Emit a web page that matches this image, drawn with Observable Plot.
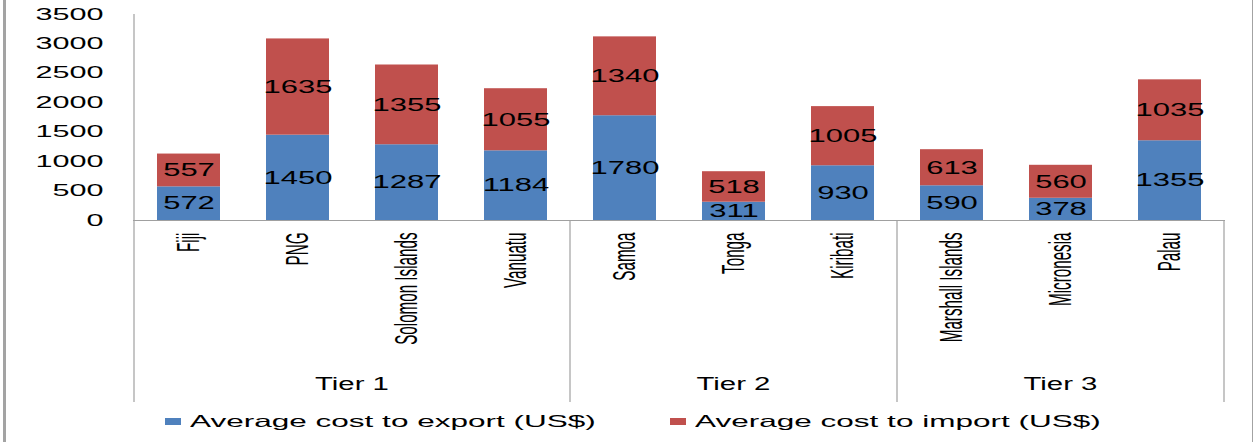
<!DOCTYPE html>
<html>
<head>
<meta charset="utf-8">
<script src="https://cdn.jsdelivr.net/npm/d3@7"></script>
<script src="https://cdn.jsdelivr.net/npm/@observablehq/plot@0.6"></script>
<style>
  body { margin: 0; background: #fff; }
  #wrap { position: relative; width: 1253px; height: 442px; overflow: hidden; font-family: "Liberation Sans", Arial, sans-serif; }
  #border { position: absolute; left: 3px; top: 0; width: 1250px; height: 442px; border-left: 3px solid #a3a3a3; border-right: 1px solid #a3a3a3; box-sizing: border-box; pointer-events: none; }
  .lg { position: absolute; top: 411px; height: 20px; display: flex; align-items: center; white-space: nowrap; }
  .sw { width: 16px; height: 7px; margin-right: 9px; flex: none; }
  .lt { display: inline-block; font-size: 16.5px; color: #000; transform: scaleX(1.91); transform-origin: left center; }
</style>
</head>
<body>
<div id="wrap">
  <div id="border"></div>
</div>
<script>
// ---- data ----
const countries = ["Fiji", "PNG", "Solomon Islands", "Vanuatu", "Samoa", "Tonga", "Kiribati", "Marshall Islands", "Micronesia", "Palau"];
const tiers = ["Tier 1", "Tier 1", "Tier 1", "Tier 1", "Tier 2", "Tier 2", "Tier 2", "Tier 3", "Tier 3", "Tier 3"];
const exportCost = [572, 1450, 1287, 1184, 1780, 311, 930, 590, 378, 1355];
const importCost = [557, 1635, 1355, 1055, 1340, 518, 1005, 613, 560, 1035];
const seriesNames = ["Average cost to export (US$)", "Average cost to import (US$)"];
const seriesColors = ["#4f81bd", "#c0504d"];
const yTicks = [0, 500, 1000, 1500, 2000, 2500, 3000, 3500];

const rows = countries.flatMap((c, i) => [
  {country: c, tier: tiers[i], series: seriesNames[0], value: exportCost[i]},
  {country: c, tier: tiers[i], series: seriesNames[1], value: importCost[i]}
]);

const chart = Plot.plot({
  width: 1253,
  height: 410,
  marginLeft: 133,
  marginRight: 28,
  marginTop: 14,
  marginBottom: 190,
  style: {fontFamily: "'Liberation Sans', Arial, sans-serif", background: "transparent", color: "#000"},
  x: {domain: countries, paddingInner: 0.425, paddingOuter: 0.2125, align: 0.5},
  y: {domain: [0, 3500]},
  color: {domain: seriesNames, range: seriesColors},
  marks: [
    Plot.barY(rows, Plot.stackY({x: "country", y: "value", fill: "series"})),
    Plot.text(rows, Plot.stackY({x: "country", y: "value", text: d => String(d.value), fill: "#000", fontSize: 18})),
    Plot.ruleY([0], {stroke: "#a0a0a0", strokeWidth: 1.2}),
    Plot.axisY({ticks: yTicks, tickFormat: d => String(d), tickSize: 0, tickPadding: 30, fontSize: 16, label: null}),
    Plot.axisX({tickSize: 0, tickRotate: -90, tickPadding: 12, fontSize: 31, label: null})
  ]
});

const wrap = document.getElementById("wrap");
wrap.insertBefore(chart, wrap.firstChild);

function stretch(nodes, f) {
  nodes.forEach(t => {
    const L = t.getComputedTextLength();
    t.setAttribute("textLength", L * f);
    t.setAttribute("lengthAdjust", "spacingAndGlyphs");
  });
}
stretch(chart.querySelectorAll('g[aria-label="y-axis tick label"] text'), 1.91);
stretch(chart.querySelectorAll('g[aria-label="x-axis tick label"] text'), 0.49);
stretch(chart.querySelectorAll('g[aria-label="text"] text'), 1.72);

// tier grouping lines and labels, placed with the plot's own scales
const xs = chart.scale("x");
const ys = chart.scale("y");
const bw = xs.bandwidth;
const gap = xs.step - bw;
const y0 = ys.apply(0);
const yTop = ys.apply(3500);
const g = d3.select(chart).append("g").attr("stroke", "#a0a0a0").attr("stroke-width", 1.2);
g.append("line").attr("x1", xs.apply(countries[0]) - gap / 2).attr("x2", xs.apply(countries[0]) - gap / 2)
  .attr("y1", yTop).attr("y2", y0);
const groups = d3.groups(countries.map((c, i) => ({c, t: tiers[i]})), d => d.t);
const bounds = [];
groups.forEach(([t, items]) => {
  const left = xs.apply(items[0].c) - gap / 2;
  const right = xs.apply(items[items.length - 1].c) + bw + gap / 2;
  bounds.push(left, right);
  d3.select(chart).append("text")
    .attr("x", (left + right) / 2).attr("y", y0 + 164)
    .attr("text-anchor", "middle").attr("dy", "0.35em")
    .attr("font-size", 18).attr("fill", "#000")
    .attr("class", "tierlabel")
    .text(t);
});
Array.from(new Set(bounds)).forEach(b => {
  g.append("line").attr("x1", b).attr("x2", b).attr("y1", y0).attr("y2", y0 + 182);
});
stretch(chart.querySelectorAll("text.tierlabel"), 1.63);

// legend
const lefts = [165, 670];
seriesNames.forEach((s, i) => {
  const item = document.createElement("div");
  item.className = "lg";
  item.style.left = lefts[i] + "px";
  item.innerHTML = `<span class="sw" style="background:${seriesColors[i]}"></span><span class="lt"></span>`;
  item.querySelector(".lt").textContent = s;
  wrap.appendChild(item);
});
</script>
</body>
</html>
